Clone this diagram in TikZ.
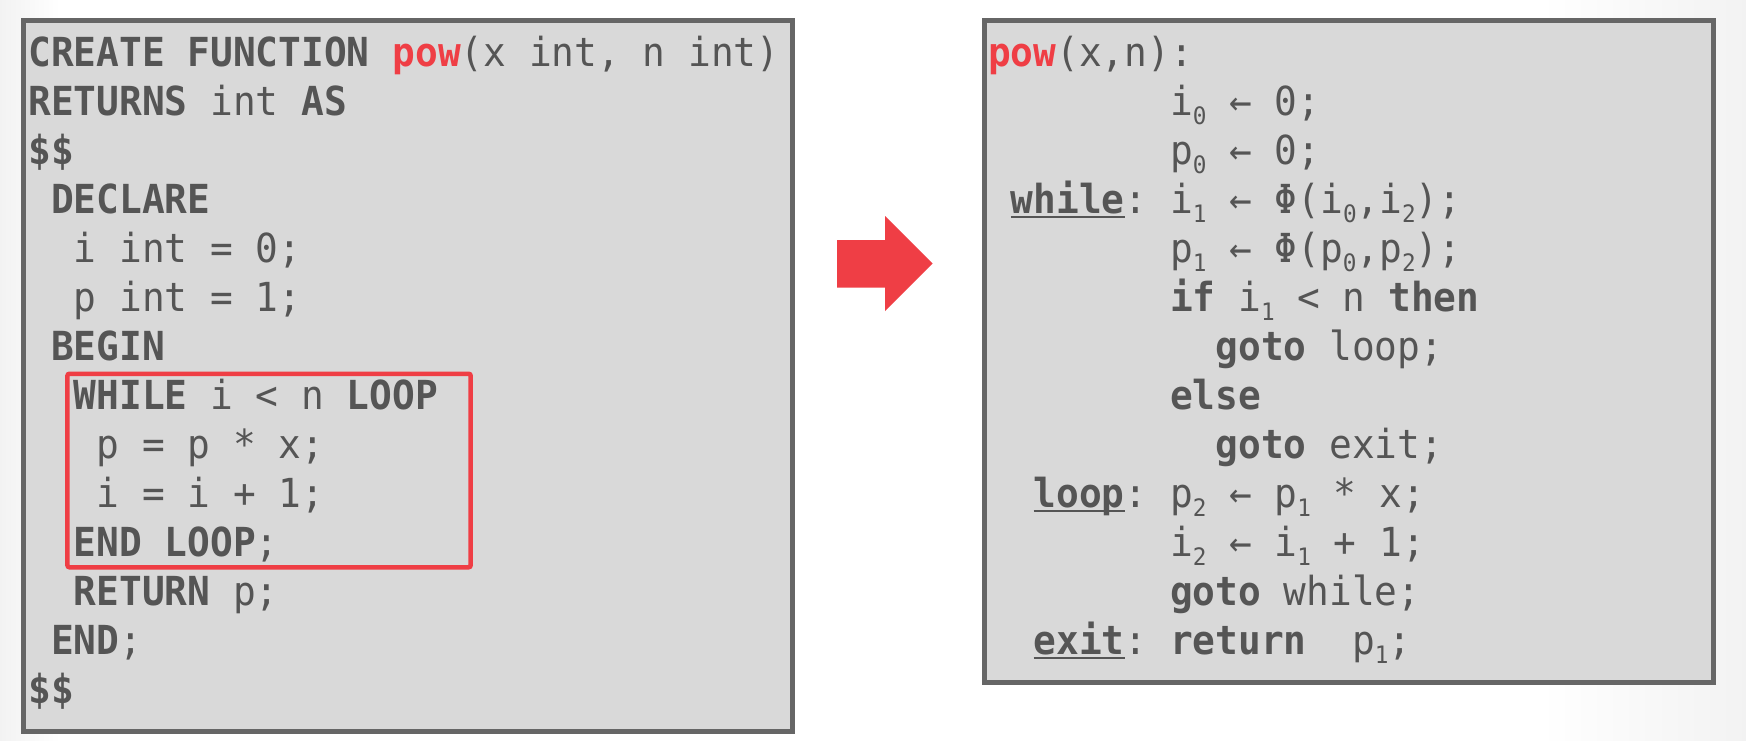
\documentclass[tikz,border=0pt]{standalone}
\usepackage{fontspec}
\setmonofont[FakeStretch=0.945]{DejaVu Sans Mono}
\definecolor{txt}{RGB}{85,85,85}
\definecolor{hl}{RGB}{239,62,69}
\definecolor{boxfill}{RGB}{217,217,217}
\definecolor{boxline}{RGB}{102,102,102}
\newcommand\sub[1]{\raisebox{-9pt}{\fontsize{24}{24}\selectfont #1}}
\newcommand\kw[1]{\textbf{#1}}
\newcommand\ulab[1]{\setbox0\hbox{\textbf{#1}}\rlap{\rule[-4.5pt]{\wd0}{2.7pt}}\box0}
\newcommand\fn{\textcolor{hl}{\textbf{pow}}}
\newcommand\lline[4]{\node[code] (#1) at ({28.4+22.75*#2},{66.7+49*#3}) {#4};}
\newcommand\rline[4]{\node[code] (#1) at ({988+22.75*#2},{66.7+49*#3}) {#4};}
\begin{document}
\begin{tikzpicture}[x=1pt,y=-1pt,
  code/.style={inner sep=0pt, outer sep=0pt, anchor=base west, text=txt,
    font=\ttfamily\fontsize{40}{49}\selectfont},
  panel/.style={fill=boxfill, draw=boxline, line width=5pt, inner sep=0pt,
    anchor=north west},
  redframe/.style={draw=hl, line width=4.5pt, rounded corners=2pt, inner sep=0pt,
    anchor=north west}]

\useasboundingbox (0,0) rectangle (1746,740);
\fill[white] (0,0) rectangle (1746,740);
\shade[left color=black!5, right color=white] (0,0) rectangle (60,740);
\shade[left color=white, right color=black!5] (1540,0) rectangle (1746,740);

% panels
\node[panel, minimum width=769pt, minimum height=711pt] (src) at (20.5,17.5) {};
\node[panel, minimum width=729pt, minimum height=662pt] (ssa) at (981.5,17.5) {};
\node[redframe, minimum width=403.2pt, minimum height=193.5pt] (loopbox) at (65.2,371.5) {};

% arrow
\fill[hl] (837,240) -- (885,240) -- (885,216) -- (932.7,263.5) -- (885,311)
  -- (885,287.5) -- (837,287.5) -- cycle;

% left code
\lline{L0}{0}{0}{\kw{CREATE FUNCTION} \fn(x int, n int)}
\lline{L1}{0}{1}{\kw{RETURNS} int \kw{AS}}
\lline{L2}{0}{2}{\kw{\$\$}}
\lline{L3}{1}{3}{\kw{DECLARE}}
\lline{L4}{2}{4}{i int = 0;}
\lline{L5}{2}{5}{p int = 1;}
\lline{L6}{1}{6}{\kw{BEGIN}}
\lline{L7}{2}{7}{\kw{WHILE} i < n \kw{LOOP}}
\lline{L8}{3}{8}{p = p * x;}
\lline{L9}{3}{9}{i = i + 1;}
\lline{L10}{2}{10}{\kw{END LOOP};}
\lline{L11}{2}{11}{\kw{RETURN} p;}
\lline{L12}{1}{12}{\kw{END};}
\lline{L13}{0}{13}{\kw{\$\$}}

% right code
\rline{R0}{0}{0}{\fn(x,n):}
\rline{R1}{8}{1}{i\sub{0} ← 0;}
\rline{R2}{8}{2}{p\sub{0} ← 0;}
\rline{R3}{1}{3}{\ulab{while}: i\sub{1} ← Φ(i\sub{0},i\sub{2});}
\rline{R4}{8}{4}{p\sub{1} ← Φ(p\sub{0},p\sub{2});}
\rline{R5}{8}{5}{\kw{if} i\sub{1} < n \kw{then}}
\rline{R6}{10}{6}{\kw{goto} loop;}
\rline{R7}{8}{7}{\kw{else}}
\rline{R8}{10}{8}{\kw{goto} exit;}
\rline{R9}{2}{9}{\ulab{loop}: p\sub{2} ← p\sub{1} * x;}
\rline{R10}{8}{10}{i\sub{2} ← i\sub{1} + 1;}
\rline{R11}{8}{11}{\kw{goto} while;}
\rline{R12}{2}{12}{\ulab{exit}: \kw{return}~~p\sub{1};}
\end{tikzpicture}
\end{document}
